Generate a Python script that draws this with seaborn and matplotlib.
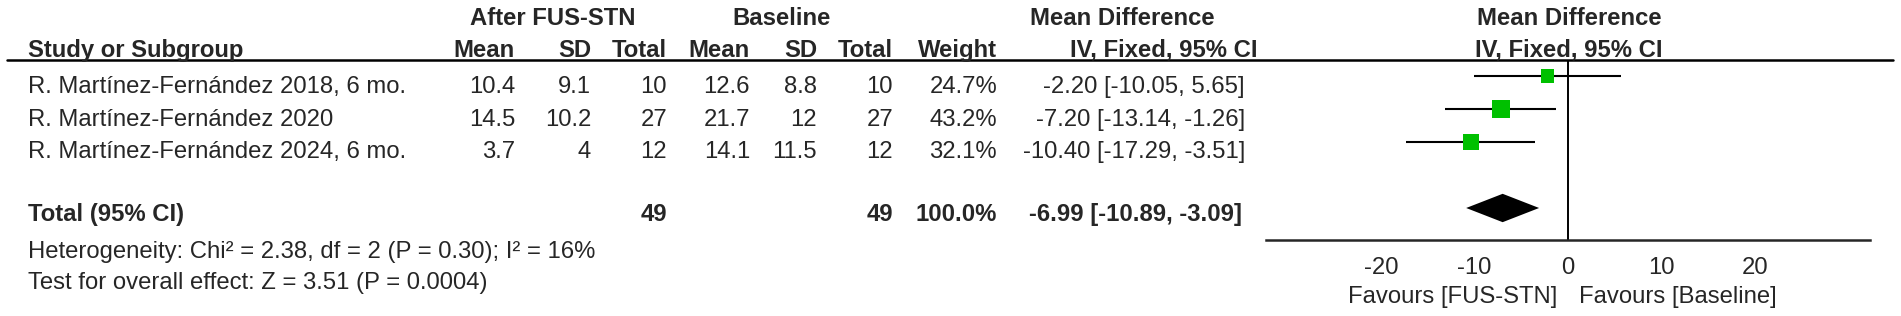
import matplotlib
matplotlib.use("Agg")  # non-interactive backend
import matplotlib.pyplot as plt
from matplotlib.lines import Line2D
import pandas as pd
import seaborn as sns

# study rows
studies = [
    "R. Martínez-Fernández 2018, 6 mo.",
    "R. Martínez-Fernández 2020",
    "R. Martínez-Fernández 2024, 6 mo.",
]
fus_mean = [10.4, 14.5, 3.7]
fus_sd = [9.1, 10.2, 4]
fus_n = [10, 27, 12]
base_mean = [12.6, 21.7, 14.1]
base_sd = [8.8, 12, 11.5]
base_n = [10, 27, 12]
weights = [24.7, 43.2, 32.1]
md = [-2.20, -7.20, -10.40]
ci_low = [-10.05, -13.14, -17.29]
ci_high = [5.65, -1.26, -3.51]

# pooled result
total_fus_n = 49
total_base_n = 49
total_weight = 100.0
total_md = -6.99
total_low = -10.89
total_high = -3.09
heterogeneity = "Heterogeneity: Chi² = 2.38, df = 2 (P = 0.30); I² = 16%"
overall_effect = "Test for overall effect: Z = 3.51 (P = 0.0004)"

ticks = [-20, -10, 0, 10, 20]
favours = ["Favours [FUS-STN]", "Favours [Baseline]"]

W, H = 1901, 316
FS = 17.2
GREEN = "#00C000"

sns.set_style("white")
plt.rcParams["font.family"] = ["Liberation Sans", "DejaVu Sans"]

fig = plt.figure(figsize=(W / 100, H / 100), dpi=100)


def put(x, y, s, ha="left", bold=False):
    """Place text by pixel position (y is the baseline, from the top)."""
    fig.text(x / W, 1 - y / H, s, ha=ha, va="baseline", fontsize=FS,
             fontweight="bold" if bold else "normal")


# column headers
put(553, 25, "After FUS-STN", ha="center", bold=True)
put(782, 25, "Baseline", ha="center", bold=True)
put(1122, 25, "Mean Difference", ha="center", bold=True)
put(1569, 25, "Mean Difference", ha="center", bold=True)
put(28, 57, "Study or Subgroup", bold=True)
for x, lab in [(515, "Mean"), (591, "SD"), (667, "Total"), (750, "Mean"),
               (817, "SD"), (893, "Total"), (997, "Weight"), (1257, "IV, Fixed, 95% CI")]:
    put(x, 57, lab, ha="right", bold=True)
put(1569, 57, "IV, Fixed, 95% CI", ha="center", bold=True)
fig.add_artist(Line2D([7 / W, 1893 / W], [1 - 60 / H, 1 - 60 / H], color="black", lw=1.8))

# study rows
row_base = [93, 126, 158]
for i, y in enumerate(row_base):
    put(28, y, studies[i])
    put(515, y, f"{fus_mean[i]:g}", ha="right")
    put(591, y, f"{fus_sd[i]:g}", ha="right")
    put(667, y, f"{fus_n[i]}", ha="right")
    put(750, y, f"{base_mean[i]:g}", ha="right")
    put(817, y, f"{base_sd[i]:g}", ha="right")
    put(893, y, f"{base_n[i]}", ha="right")
    put(997, y, f"{weights[i]:.1f}%", ha="right")
    put(1245, y, f"{md[i]:.2f} [{ci_low[i]:.2f}, {ci_high[i]:.2f}]", ha="right")

# total row
put(28, 221, "Total (95% CI)", bold=True)
put(667, 221, f"{total_fus_n}", ha="right", bold=True)
put(893, 221, f"{total_base_n}", ha="right", bold=True)
put(997, 221, f"{total_weight:.1f}%", ha="right", bold=True)
put(1242, 221, f"{total_md:.2f} [{total_low:.2f}, {total_high:.2f}]", ha="right", bold=True)
put(28, 258, heterogeneity)
put(28, 289, overall_effect)

# forest plot
ax = fig.add_axes([1240 / W, 1 - 240 / H, 656 / W, 180 / H])
ax.patch.set_visible(False)
df = pd.DataFrame({"md": md, "row": range(len(md)), "weight": weights})
ax.hlines(df["row"], ci_low, ci_high, color="black", lw=1.5, zorder=2)
sns.scatterplot(data=df, x="md", y="row", size="weight", sizes=(96, 168),
                marker="s", color=GREEN, linewidth=0, legend=False, ax=ax, zorder=3)
total_row = len(md) + 1
half_h = 0.43
ax.fill([total_low, total_md, total_high, total_md],
        [total_row, total_row - half_h, total_row, total_row + half_h],
        color="black", lw=0)
ax.axvline(0, color="black", lw=1.4)

ax.set_xlim(-35.08, 35.08)
ax.set_ylim(4.97, -0.485)
for side in ["top", "left", "right"]:
    ax.spines[side].set_visible(False)
ax.spines["bottom"].set_bounds(-32.3, 32.3)
ax.spines["bottom"].set_linewidth(1.8)
ax.set_yticks([])
ax.set_xticks(ticks)
ax.set_xticklabels([str(t) for t in ticks])
ax.tick_params(axis="x", direction="inout", length=11.5, width=1.4,
               labelsize=FS, pad=6.2)
ax.set_xlabel("")
ax.set_ylabel("")

ax.annotate(favours[0], xy=(0, 1 - 303 / H), xycoords=("data", "figure fraction"),
            xytext=(-8, 0), textcoords="offset points", ha="right", va="baseline", fontsize=FS)
ax.annotate(favours[1], xy=(0, 1 - 303 / H), xycoords=("data", "figure fraction"),
            xytext=(8, 0), textcoords="offset points", ha="left", va="baseline", fontsize=FS)

fig.savefig("out.png", dpi=100)
plt.close(fig)
